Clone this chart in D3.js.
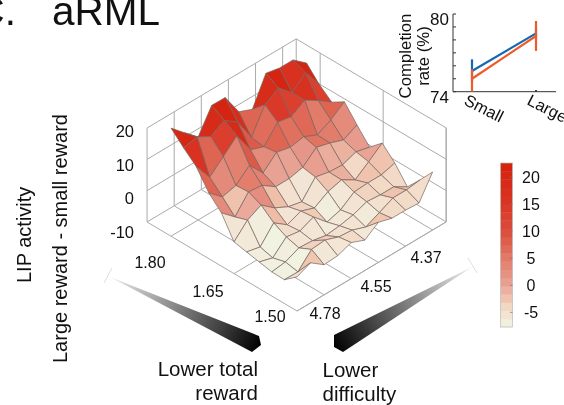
<!DOCTYPE html>
<html>
<head>
<meta charset="utf-8">
<script src="https://cdn.jsdelivr.net/npm/d3@7"></script>
<style>
  html, body { margin: 0; padding: 0; background: #fff; }
  svg { display: block; font-family: "Liberation Sans", Arial, sans-serif; fill: #111; filter: blur(0.35px); }
</style>
</head>
<body>
<svg width="564" height="405"></svg>
<script>
// surface grid
var rewardTicks = [1.50, 1.65, 1.80];
var rewardTickIndex = [0, 5, 10];
var difficultyTicks = [4.78, 4.55, 4.37];
var difficultyTickIndex = [2, 6, 10];
var wallDifficultyIndex = [2, 4, 6, 8, 10];
var activityTicks = [-10, 0, 10, 20];

// LIP activity, rows go from reward 1.50 (row 0) to 1.80 (row 10), columns from easy to hard
var lipActivity = [
  [0.9, 2.8, -0.4, -0.1, 1.5, -0.3, 2.8, 1.5, 1.5, 1.2, 8.5],
  [-2.4, -2.5, 2.1, 2.5, 0.9, 0.5, -1.1, 0.9, 3, 3, 3.6],
  [-2.3, -1.7, 0.2, -0.1, -1, -0.5, 0.4, 2, 1.6, 1.6, -1],
  [-1.5, -2.8, 1.3, 0.6, 2.5, -1.7, -0.4, 2.7, 3, 3, 4.2],
  [-0.7, -1.7, 3.4, 0.2, 2, 0.4, 3, 4.2, 1.6, 4.8, 8.2],
  [0.1, 4.5, 6.7, 3.2, 1, 0, 5.3, 4.3, 4, 5.6, 4.5],
  [7, 3.1, 8.5, 8, 5, 5, 6, 9.8, 8.6, 7, 9.2],
  [11, 7.1, 8.2, 12, 7, 11, 10, 10.8, 8.8, 11, 14.2],
  [17, 11, 15, 19, 12, 10.4, 15.6, 14.8, 17.5, 14.8, 11.7],
  [20.6, 21.5, 19, 21.6, 18.4, 11, 18.8, 21.6, 17.5, 21.3, 15],
  [24.5, 20.4, 16.5, 24, 23.9, 16.8, 15, 23.9, 23, 23, 19.4]
];

// inset
var rewardSizes = ["Small", "Large"];
var blueRate = [75.6, 78.5];
var blueLow = [74.8, 78.1];
var blueHigh = [76.5, 78.9];
var orangeRate = [75.0, 78.3];
var orangeLow = [74.0, 77.15];
var orangeHigh = [75.75, 79.46];

// colormap
var colorbarTicks = [-5, 0, 5, 10, 15, 20];
var colorStops = [-7.7, -6, -4, -2, 0, 2.5, 5, 10, 15, 22.6];
var colorValues = ["#f0f4e2", "#f3e8d8", "#f2d8c4", "#eebfa9", "#e9a597", "#e58f80", "#e27a68", "#dc4e3c", "#da3626", "#d3200c"];
// surface height to colormap value, as read from the shading of the faces
var heightStops = [-3, 1, 4, 7, 10, 13, 16, 20, 24];
var shadeStops = [-7.7, -5, -1, 3, 6, 10, 15, 20, 22];

var svg = d3.select("svg");
var color = d3.scaleLinear().domain(colorStops).range(colorValues);
var shade = d3.scaleLinear().domain(heightStops).range(shadeStops).clamp(true);

// projection of the floor
var rowX = d3.scaleLinear().domain([0, 10]).range([0, -126]);
var rowY = d3.scaleLinear().domain([0, 10]).range([0, -74.8]);
var colX = d3.scaleLinear().domain([0, 10]).range([0, 135.6]);
var colY = d3.scaleLinear().domain([0, 10]).range([0, -81]);
var zPx = d3.scaleLinear().domain([-10, 20]).range([0, -94]);
var front = [297, 311];

function project(i, j, z) {
  return [front[0] + rowX(i) + colX(j), front[1] + rowY(i) + colY(j) + zPx(z)];
}

// box: the corners are one step past the last grid row/column
var rowEnd = 11.9, colEnd = 11;
var wall = svg.append("g").attr("fill", "none").attr("stroke", "#aaa").attr("stroke-width", 1);
function seg(a, b) { wall.append("line").attr("x1", a[0]).attr("y1", a[1]).attr("x2", b[0]).attr("y2", b[1]); }

activityTicks.forEach(function(z) {
  seg(project(rowEnd, 0, z), project(rowEnd, colEnd, z));
  seg(project(0, colEnd, z), project(rowEnd, colEnd, z));
});
seg(project(rowEnd, 0, -10), project(0, 0, -10));
seg(project(0, 0, -10), project(0, colEnd, -10));
seg(project(rowEnd, 0, -10), project(rowEnd, 0, 20));
seg(project(0, colEnd, -10), project(0, colEnd, 20));
seg(project(rowEnd, colEnd, -10), project(rowEnd, colEnd, 20));
wallDifficultyIndex.forEach(function(j) {
  seg(project(rowEnd, j, -10), project(rowEnd, j, 20));
  seg(project(0, j, -10), project(rowEnd, j, -10));
});
rewardTickIndex.forEach(function(i) {
  seg(project(i, colEnd, -10), project(i, colEnd, 20));
  seg(project(i, 0, -10), project(i, colEnd, -10));
});

// surface, painted back to front. each face takes the colour of its near corner, like surf does
var cells = [];
d3.range(10).forEach(function(i) {
  d3.range(10).forEach(function(j) {
    var z = [lipActivity[i][j], lipActivity[i][j + 1], lipActivity[i + 1][j + 1], lipActivity[i + 1][j]];
    cells.push({ i: i, j: j, z: z });
  });
});
cells.sort(function(a, b) { return (b.i + b.j) - (a.i + a.j); });

svg.append("g").selectAll("path")
  .data(cells)
  .enter()
  .append("path")
    .attr("d", function(d) {
      return d3.line()([
        project(d.i, d.j, d.z[0]),
        project(d.i, d.j + 1, d.z[1]),
        project(d.i + 1, d.j + 1, d.z[2]),
        project(d.i + 1, d.j, d.z[3])
      ]) + "Z";
    })
    .attr("fill", function(d) { return color(shade(d.z[0])); })
    .attr("stroke", "#75645e")
    .attr("stroke-width", 0.7)
    .attr("stroke-linejoin", "round");

// text labels
function label(x, y, s, size, anchor, rot) {
  var t = svg.append("text").attr("font-size", size).attr("text-anchor", anchor || "start").text(s);
  if (rot) t.attr("transform", "translate(" + x + "," + y + ") rotate(" + rot + ")");
  else t.attr("x", x).attr("y", y);
  return t;
}

label(-24.5, 25, "C.", 40.5);
label(52, 25, "aRML", 40.5);
label(31, 283, "LIP activity", 20, "start", -90);
label(67, 363, "Large reward - small reward", 20, "start", -90);

var zLabelY = d3.scaleLinear().domain([-10, 20]).range([238, 137]);
activityTicks.forEach(function(z) { label(134, zLabelY(z), z, 16.5, "end"); });

[[150, 268], [208, 297], [270, 322]].reverse().forEach(function(p, k) { label(p[0], p[1], rewardTicks[k].toFixed(2), 16, "middle"); });
[[325, 319], [376, 292], [426, 263]].forEach(function(p, k) { label(p[0], p[1], difficultyTicks[k].toFixed(2), 16, "middle"); });

label(258, 376, "Lower total", 20.5, "end");
label(258, 400, "reward", 20.5, "end");
label(322.5, 377, "Lower", 20.5);
label(322.5, 401, "difficulty", 20.5);

// wedges
var defs = svg.append("defs");
function wedge(id, tip, pts, bar) {
  var g = defs.append("linearGradient").attr("id", id).attr("gradientUnits", "userSpaceOnUse")
    .attr("x1", tip[0]).attr("y1", tip[1]).attr("x2", pts[1][0]).attr("y2", pts[1][1]);
  g.append("stop").attr("offset", 0).attr("stop-color", "#eee");
  g.append("stop").attr("offset", 1).attr("stop-color", "#000");
  svg.append("path").attr("d", d3.line()([tip].concat(pts)) + "Z").attr("fill", "url(#" + id + ")");
  svg.append("line").attr("x1", bar[0]).attr("y1", bar[1]).attr("x2", bar[2]).attr("y2", bar[3]).attr("stroke", "#ddd");
}
wedge("w1", [110, 277], [[259, 336], [261, 345], [252, 352]], [112, 268, 104, 283]);
wedge("w2", [472, 267], [[343, 352], [334, 347], [334, 335]], [468, 258, 477, 273]);

// colorbar
var cbY = d3.scaleLinear().domain([-7.7, 22.6]).range([327, 163]);
var bandStep = (22.6 + 7.7) / 20;
var bands = d3.range(20).map(function(k) { return -7.7 + k * bandStep; });
svg.append("g").selectAll("rect")
  .data(bands)
  .enter()
  .append("rect")
    .attr("x", 500.5)
    .attr("width", 12)
    .attr("y", function(d) { return cbY(d + bandStep); })
    .attr("height", function(d) { return cbY(d) - cbY(d + bandStep) + 0.4; })
    .attr("fill", function(d) { return color(d + bandStep / 2); });
svg.append("rect").attr("x", 500.5).attr("y", 163).attr("width", 12).attr("height", 164)
  .attr("fill", "none").attr("stroke", "#bbb").attr("stroke-width", 0.7);
colorbarTicks.forEach(function(v) {
  label(531, cbY(v) + 6, v, 16, "middle");
  svg.append("line").attr("x1", 510).attr("x2", 512.5).attr("y1", cbY(v)).attr("y2", cbY(v)).attr("stroke", "#777").attr("stroke-width", 0.7);
});

// inset chart
var ix = d3.scalePoint().domain(rewardSizes).range([472, 536]);
var iy = d3.scaleLinear().domain([74, 80]).range([91.7, 14]);
var inset = svg.append("g");
inset.append("line").attr("x1", 453).attr("x2", 453).attr("y1", 14).attr("y2", 91.7).attr("stroke", "#333").attr("stroke-width", 1);
inset.append("line").attr("x1", 453).attr("x2", 556).attr("y1", 91.7).attr("y2", 91.7).attr("stroke", "#333").attr("stroke-width", 1);
d3.range(74, 81).forEach(function(v) {
  inset.append("line").attr("x1", 453).attr("x2", 456).attr("y1", iy(v)).attr("y2", iy(v)).attr("stroke", "#333");
});
inset.append("line").attr("x1", ix("Large")).attr("x2", ix("Large")).attr("y1", 90).attr("y2", 91.7).attr("stroke", "#111").attr("stroke-width", 1.5);

function series(vals, lo, hi, c) {
  inset.append("path").datum(vals)
    .attr("d", d3.line().x(function(d, k) { return ix(rewardSizes[k]); }).y(function(d) { return iy(d); }))
    .attr("fill", "none").attr("stroke", c).attr("stroke-width", 2.2);
  inset.selectAll(null).data(vals).enter().append("line")
    .attr("x1", function(d, k) { return ix(rewardSizes[k]); })
    .attr("x2", function(d, k) { return ix(rewardSizes[k]); })
    .attr("y1", function(d, k) { return iy(lo[k]); })
    .attr("y2", function(d, k) { return iy(hi[k]); })
    .attr("stroke", c).attr("stroke-width", 2.2);
}
series(blueRate, blueLow, blueHigh, "#1668b0");
series(orangeRate, orangeLow, orangeHigh, "#ee5a2a");

label(449, 25, "80", 17, "end");
label(449, 103, "74", 17, "end");
label(411, 56, "Completion", 16.8, "middle", -90);
label(429, 56, "rate (%)", 16.8, "middle", -90);
label(463, 104, "Small", 16.5, "start", 27);
label(526, 104, "Large", 16.5, "start", 27);
</script>
</body>
</html>
